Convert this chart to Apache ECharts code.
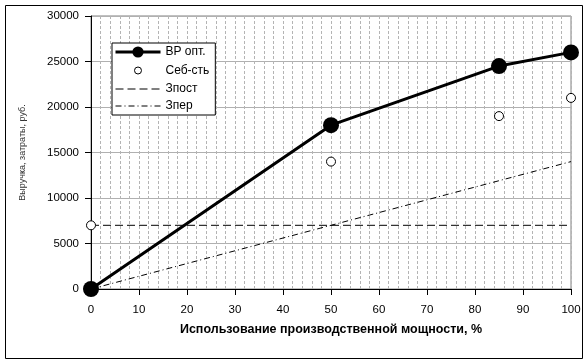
<!DOCTYPE html>
<html><head><meta charset="utf-8">
<script src="https://cdn.jsdelivr.net/npm/echarts@6/dist/echarts.min.js"></script>
<style>html,body{margin:0;padding:0;background:#fff}#c{width:588px;height:362px}</style>
</head><body><div id="c"></div>
<script>
const xValues = [0, 50, 85, 100];
const vrOpt = [0, 18000, 24500, 26000];
const sebst = [7000, 14000, 19000, 21000];
const zpostX = [0, 100];
const zpost = [7000, 7000];
const zperX = [0, 100];
const zper = [0, 14000];
const seriesNames = ['ВР опт.', 'Себ-сть', 'Зпост', 'Зпер'];
const xTitle = 'Использование производственной мощности, %';
const yTitle = 'Выручка, затраты, руб.';

const pairs = (xs, ys) => xs.map((x, i) => [x, ys[i]]);
const font = 'Liberation Sans, Arial, sans-serif';

const chart = echarts.init(document.getElementById('c'), null, {renderer: 'canvas'});
chart.setOption({
  animation: false,
  backgroundColor: '#fff',
  textStyle: {fontFamily: font},
  graphic: [{type: 'rect', shape: {x: 5.5, y: 5.5, width: 577, height: 353}, style: {fill: 'none', stroke: '#000', lineWidth: 1}, z: -1}],
  grid: {left: 91, top: 16, right: 17, bottom: 73, show: true, borderColor: '#808080', borderWidth: 1, backgroundColor: 'transparent'},
  legend: {
    orient: 'vertical', left: 112, top: 43,
    padding: [3, 6, 3, 2], itemGap: 5, itemWidth: 45, itemHeight: 14,
    borderColor: '#000', borderWidth: 1, backgroundColor: '#fff',
    textStyle: {fontFamily: font, fontSize: 12, color: '#000'},
    data: [
      {name: seriesNames[0], lineStyle: {width: 3}},
      {name: seriesNames[1], icon: 'path://M0,0 M24,24 M12,6 A6,6 0 1,1 11.99,6 Z', itemStyle: {borderWidth: 1}},
      {name: seriesNames[2], lineStyle: {width: 1}},
      {name: seriesNames[3], lineStyle: {width: 1}}
    ]
  },
  xAxis: [{
    type: 'value', min: 0, max: 100, interval: 2,
    axisLine: {show: false}, axisTick: {show: false}, axisLabel: {show: false},
    splitLine: {show: true, lineStyle: {color: '#b4b4b4', type: [3, 2], width: 1}}
  }, {
    type: 'value', min: 0, max: 100, interval: 10, position: 'bottom',
    name: xTitle, nameLocation: 'middle', nameGap: 34,
    nameTextStyle: {fontFamily: font, fontSize: 12.5, fontWeight: 'bold', color: '#000'},
    axisLine: {show: true, lineStyle: {color: '#000', width: 1}},
    axisTick: {show: true, inside: false, length: 6, lineStyle: {color: '#000'}},
    axisLabel: {show: true, color: '#000', fontSize: 11.5, margin: 15, fontFamily: font},
    splitLine: {show: false}
  }],
  yAxis: {
    type: 'value', min: 0, max: 30000, interval: 5000,
    name: yTitle, nameLocation: 'middle', nameGap: 64,
    nameTextStyle: {fontFamily: font, fontSize: 9, color: '#333'},
    axisLine: {show: true, lineStyle: {color: '#000', width: 1}},
    axisTick: {show: true, inside: false, length: 6, lineStyle: {color: '#000'}},
    axisLabel: {color: '#000', fontSize: 11.5, margin: 12, fontFamily: font, formatter: v => String(v)},
    splitLine: {show: true, lineStyle: {color: '#b0b0b0', type: 'solid', width: 1}}
  },
  series: [
    {
      name: seriesNames[2], type: 'line', data: pairs(zpostX, zpost), symbol: 'none',
      lineStyle: {color: '#000', width: 1, type: [8, 4]},
      itemStyle: {color: 'rgba(0,0,0,0)'}, z: 2
    },
    {
      name: seriesNames[3], type: 'line', data: pairs(zperX, zper), symbol: 'none',
      lineStyle: {color: '#000', width: 1, type: [6, 3, 1, 3]},
      itemStyle: {color: 'rgba(0,0,0,0)'}, z: 2
    },
    {
      name: seriesNames[0], type: 'line', data: pairs(xValues, vrOpt),
      symbol: 'circle', symbolSize: 16, showSymbol: true,
      lineStyle: {color: '#000', width: 3},
      itemStyle: {color: '#000'}, z: 3
    },
    {
      name: seriesNames[1], type: 'scatter', data: pairs(xValues, sebst),
      symbol: 'circle', symbolSize: 9,
      itemStyle: {color: '#fff', borderColor: '#000', borderWidth: 1, opacity: 1}, z: 4
    }
  ]
});
</script></body></html>
